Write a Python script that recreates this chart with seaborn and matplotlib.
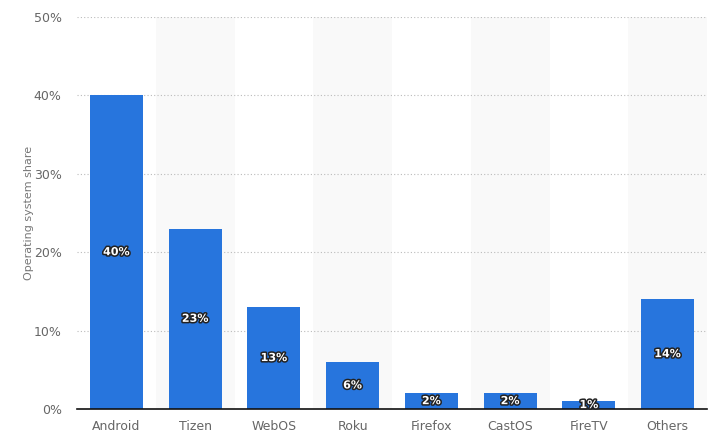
import matplotlib
matplotlib.use("Agg")
import matplotlib.pyplot as plt
import matplotlib.patheffects as pe
import seaborn as sns
import pandas as pd

categories = ["Android", "Tizen", "WebOS", "Roku", "Firefox", "CastOS", "FireTV", "Others"]
shares = [40, 23, 13, 6, 2, 2, 1, 14]
yticks = [0, 10, 20, 30, 40, 50]
ytick_labels = ["0%", "10%", "20%", "30%", "40%", "50%"]

df = pd.DataFrame({"category": categories, "share": shares})

sns.set_theme(style="white")
plt.rcParams['font.family'] = ['DejaVu Sans']

fig = plt.figure(figsize=(7.08, 4.45), dpi=100)
ax = fig.add_axes([77/708, 1-409/445, 630/708, (409-17)/445])

# alternating background bands
for i in range(len(categories)):
    if i % 2 == 1:
        ax.axvspan(i-0.5, i+0.5, color="#f9f9f9", zorder=0, lw=0)

sns.barplot(data=df, x="category", y="share", color="#2775dd", width=0.67,
            saturation=1, ax=ax, zorder=3, linewidth=0, edgecolor="none")

ax.set_ylim(0, 50)
ax.set_xlim(-0.5, len(categories)-0.5)
ax.set_yticks(yticks)
ax.set_yticklabels(ytick_labels, color="#666666", fontsize=9)
ax.tick_params(axis="x", colors="#666666", labelsize=9, length=0, pad=8)
ax.tick_params(axis="y", length=0, pad=11)
for lab in ax.get_xticklabels():
    lab.set_color("#666666")
ax.yaxis.grid(True, linestyle=(0, (1, 2)), color="#bbbbbb", linewidth=0.8, zorder=1)
ax.set_axisbelow(True)
ax.set_xlabel("")
ax.set_ylabel("Operating system share", color="#777777", fontsize=8)
ax.yaxis.set_label_coords((34-77)/630, 0.5)

for s in ["top", "right", "left"]:
    ax.spines[s].set_visible(False)
ax.spines["bottom"].set_color("#111111")
ax.spines["bottom"].set_linewidth(1.2)
ax.spines["bottom"].set_zorder(5)

for i, v in enumerate(shares):
    ax.text(i, v/2, f"{v}%", ha="center", va="center", color="white", fontsize=8,
            fontweight="bold", zorder=6,
            path_effects=[pe.withStroke(linewidth=2.2, foreground="#222222")])

fig.savefig("out.png", dpi=100)
